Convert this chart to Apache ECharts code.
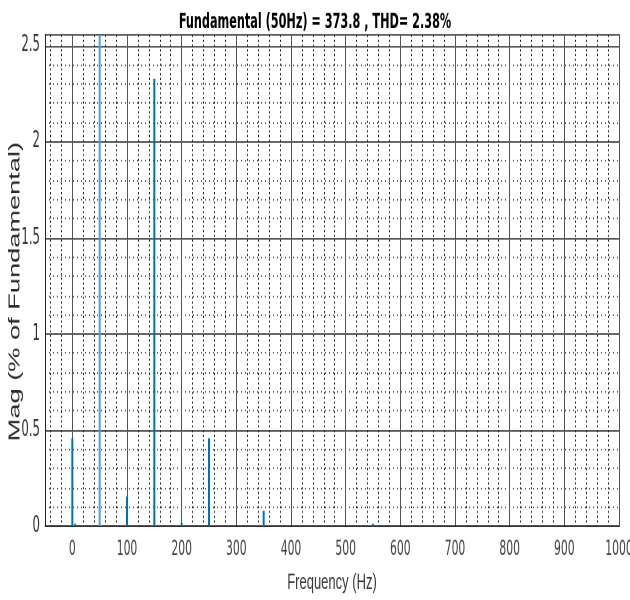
<!DOCTYPE html>
<html>
<head>
<meta charset="utf-8">
<script src="https://cdn.jsdelivr.net/npm/echarts@6/dist/echarts.min.js"></script>
<style>
html,body{margin:0;padding:0;background:#fff;overflow:hidden;}
#wrap{width:630px;height:600px;overflow:hidden;}
#chart{width:630px;height:353px;transform:scaleY(1.6997);transform-origin:0 0;}
</style>
</head>
<body>
<div id="wrap"><div id="chart"></div></div>
<script>
// Data (FFT spectrum, % of fundamental)
const freqs = [0, 5, 50, 100, 150, 200, 250, 350, 550];
const mags = [0.457, 0.012, 100, 0.153, 2.327, 0.017, 0.457, 0.08, 0.012];
const xTicks = [0, 100, 200, 300, 400, 500, 600, 700, 800, 900, 1000];
const xMinor = [-40, -20, 20, 40, 60, 80, 120, 140, 160, 180, 220, 240, 260, 280, 320, 340, 360, 380, 420, 440, 460, 480, 520, 540, 560, 580, 620, 640, 660, 680, 720, 740, 760, 780, 820, 840, 860, 880, 920, 940, 960, 980];
const yTicks = [0, 0.5, 1, 1.5, 2, 2.5];
const yMinor = [0.1, 0.2, 0.3, 0.4, 0.6, 0.7, 0.8, 0.9, 1.1, 1.2, 1.3, 1.4, 1.6, 1.7, 1.8, 1.9, 2.1, 2.2, 2.3, 2.4];
const titleText = 'Fundamental (50Hz) = 373.8 , THD= 2.38%';
const xName = 'Frequency (Hz)';
const yName = 'Mag (% of Fundamental)';

const narrow = "'Liberation Sans Narrow','DejaVu Sans Condensed','Roboto Condensed','Liberation Sans',sans-serif";
const XMIN = -50, XMAX = 1000, YMIN = 0, YMAX = 2.555;

const chart = echarts.init(document.getElementById('chart'), null, {renderer: 'canvas', devicePixelRatio: 2});

const data = freqs.map((f, i) => ({
  value: [f, mags[i]],
  itemStyle: {color: f === 50 ? '#4a9fdc' : '#0072BD'}
}));

chart.setOption({
  animation: false,
  backgroundColor: '#fff',
  title: {
    text: titleText,
    left: 'center',
    top: 6.5,
    padding: 0,
    textStyle: {fontFamily: narrow, fontSize: 12.5, fontWeight: 'bold', color: '#000'}
  },
  grid: {left: 45, right: 11, top: 20.6, bottom: 43.5, show: false, containLabel: false, outerBoundsMode: 'none'},
  xAxis: [
    {
      type: 'value', min: XMIN, max: XMAX, position: 'bottom',
      name: xName, nameLocation: 'middle', nameGap: 27, nameMoveOverlap: false,
      nameTextStyle: {fontFamily: "'Liberation Sans',sans-serif", fontSize: 13, color: '#3a3a3a'},
      axisLine: {show: true, onZero: false, lineStyle: {color: '#262626', width: 0.7}},
      axisTick: {show: false, customValues: xTicks},
      axisLabel: {customValues: xTicks, margin: 8, fontFamily: narrow, fontSize: 12, color: '#444',
        formatter: v => String(v)},
      splitLine: {show: true, lineStyle: {color: '#555', width: 1}},
      z: 3
    },
    {
      type: 'value', min: XMIN, max: XMAX, position: 'bottom',
      axisLine: {show: false, onZero: false},
      axisTick: {show: false, customValues: xMinor},
      axisLabel: {show: false, customValues: xMinor},
      splitLine: {show: true, lineStyle: {color: '#222', width: 1, type: [1.2, 1.6]}},
      z: 1
    },
    {
      type: 'value', min: XMIN, max: XMAX, position: 'top',
      axisLine: {show: true, onZero: false, lineStyle: {color: '#262626', width: 0.7}},
      axisTick: {show: false}, axisLabel: {show: false}, splitLine: {show: false}
    }
  ],
  yAxis: [
    {
      type: 'value', min: YMIN, max: YMAX, position: 'left',
      name: yName, nameLocation: 'middle', nameGap: 22, nameRotate: 90, nameMoveOverlap: false,
      nameTextStyle: {fontFamily: "'Liberation Sans',sans-serif", fontSize: 16, color: '#2a2a2a', padding: [0, 13, 0, 0]},
      axisLine: {show: true, onZero: false, lineStyle: {color: '#262626', width: 1}},
      axisTick: {show: false, customValues: yTicks},
      axisLabel: {customValues: yTicks, margin: 5, fontFamily: narrow, fontSize: 13, color: '#333',
        formatter: v => String(v)},
      splitLine: {show: true, lineStyle: {color: '#222', width: 0.7}},
      z: 3
    },
    {
      type: 'value', min: YMIN, max: YMAX, position: 'left',
      axisLine: {show: false, onZero: false},
      axisTick: {show: false, customValues: yMinor},
      axisLabel: {show: false, customValues: yMinor},
      splitLine: {show: true, lineStyle: {color: '#222', width: 0.7, type: [1, 3]}},
      z: 1
    },
    {
      type: 'value', min: YMIN, max: YMAX, position: 'right',
      axisLine: {show: true, onZero: false, lineStyle: {color: '#262626', width: 1}},
      axisTick: {show: false}, axisLabel: {show: false}, splitLine: {show: false}
    }
  ],
  series: [{
    type: 'bar',
    xAxisIndex: 0, yAxisIndex: 0,
    barWidth: 2,
    clip: true,
    data: data,
    z: 5
  }]
});
</script>
</body>
</html>
